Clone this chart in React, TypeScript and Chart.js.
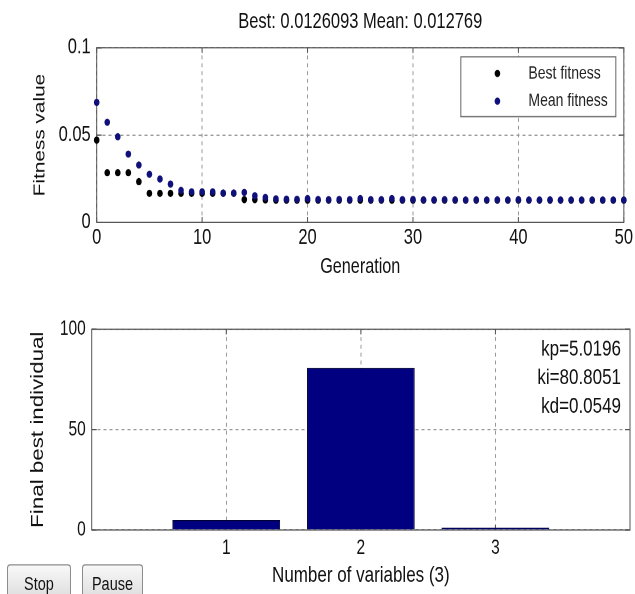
import { useEffect, useRef } from "react";
import { Chart, registerables } from "chart.js";

Chart.register(...registerables);

// the reference picture is stretched vertically, so the whole figure is drawn flatter and scaled
const K = 1.3;
const FONT = '"Liberation Sans", Arial, sans-serif';
const GRID = "#999";
const FRAME = "#555";
const INK = "#111";

const topTitle = "Best: 0.0126093 Mean: 0.012769";
const generations = [
  0, 1, 2, 3, 4, 5, 6, 7, 8, 9, 10, 11, 12, 13, 14, 15, 16, 17, 18, 19, 20, 21, 22, 23, 24, 25,
  26, 27, 28, 29, 30, 31, 32, 33, 34, 35, 36, 37, 38, 39, 40, 41, 42, 43, 44, 45, 46, 47, 48, 49, 50,
];
const bestFitness = [
  0.0471, 0.0284, 0.0284, 0.0284, 0.0233, 0.0166, 0.0166, 0.0166, 0.0166, 0.0166, 0.0166, 0.0166,
  0.0166, 0.0166, 0.013, 0.013, 0.0128, 0.0126, 0.0126, 0.0126, 0.0126, 0.0126, 0.0126, 0.0126,
  0.0126, 0.0126, 0.0126, 0.0126, 0.0126, 0.0126, 0.0126, 0.0126, 0.0126, 0.0126, 0.0126, 0.0126,
  0.0126, 0.0126, 0.0126, 0.0126, 0.0126, 0.0126, 0.0126, 0.0126, 0.0126, 0.0126, 0.0126, 0.0126,
  0.0126, 0.0126, 0.0126093,
];
const meanFitness = [
  0.0687, 0.0573, 0.049, 0.0391, 0.0328, 0.0275, 0.0248, 0.0219, 0.0183, 0.0175, 0.0175, 0.0175,
  0.0168, 0.0168, 0.0171, 0.0152, 0.0143, 0.0135, 0.0133, 0.0132, 0.0136, 0.0131, 0.013, 0.0131,
  0.013, 0.0136, 0.013, 0.013, 0.0136, 0.013, 0.0131, 0.0129, 0.0129, 0.013, 0.0129, 0.0128,
  0.0129, 0.0128, 0.0129, 0.0128, 0.013, 0.0128, 0.0128, 0.0129, 0.0128, 0.0128, 0.0128, 0.0128,
  0.0128, 0.0128, 0.012769,
];
const fitnessTicks = [0, 0.05, 0.1];
const generationTicks = [0, 10, 20, 30, 40, 50];

const variables = [1, 2, 3];
const gainNames = ["kp", "ki", "kd"];
const bestIndividual = [5.0196, 80.8051, 0.0549];
const individualTicks = [0, 50, 100];

const font = (size: number) => ({ family: FONT, size, weight: "normal" as const });

// box round the axes plus MATLAB-style inward tick marks
const framePlugin = {
  id: "frame",
  beforeDatasetsDraw(chart: any) {
    const { ctx, chartArea: a, scales } = chart;
    ctx.save();
    ctx.strokeStyle = FRAME;
    ctx.lineWidth = 1;
    ctx.strokeRect(a.left, a.top, a.width, a.height);
    ctx.beginPath();
    scales.x.ticks.forEach((t: any) => {
      const px = scales.x.getPixelForValue(t.value);
      ctx.moveTo(px, a.bottom);
      ctx.lineTo(px, a.bottom - 4);
      ctx.moveTo(px, a.top);
      ctx.lineTo(px, a.top + 4);
    });
    scales.y.ticks.forEach((t: any) => {
      const py = scales.y.getPixelForValue(t.value);
      ctx.moveTo(a.left, py);
      ctx.lineTo(a.left + 5, py);
      ctx.moveTo(a.right, py);
      ctx.lineTo(a.right - 5, py);
    });
    ctx.stroke();
    ctx.restore();
  },
};

const boxLegend = {
  id: "boxLegend",
  afterDraw(chart: any) {
    const { ctx, chartArea: a } = chart;
    const w = 155;
    const h = 46;
    const x = a.right - 8 - w;
    const y = a.top + 7;
    ctx.save();
    ctx.fillStyle = "#fff";
    ctx.fillRect(x, y, w, h);
    ctx.strokeStyle = "#666";
    ctx.lineWidth = 1;
    ctx.strokeRect(x, y, w, h);
    ctx.font = `14px ${FONT}`;
    ctx.textBaseline = "middle";
    chart.data.datasets.forEach((ds: any, i: number) => {
      const cy = y + 12.8 + i * 21.3;
      ctx.fillStyle = ds.backgroundColor;
      ctx.beginPath();
      ctx.arc(x + 36.6, cy, ds.pointRadius, 0, Math.PI * 2);
      ctx.fill();
      ctx.fillStyle = "#222";
      ctx.fillText(ds.label, x + 67.6, cy);
    });
    ctx.restore();
  },
};

const gainText = {
  id: "gainText",
  afterDatasetsDraw(chart: any) {
    const { ctx, chartArea: a } = chart;
    ctx.save();
    ctx.font = `17px ${FONT}`;
    ctx.fillStyle = INK;
    ctx.textAlign = "right";
    ctx.textBaseline = "middle";
    gainNames.forEach((name, i) => {
      ctx.fillText(`${name}=${bestIndividual[i]}`, a.right - 9, a.top + 15.4 + i * 22);
    });
    ctx.restore();
  },
};

const FitnessChart = () => {
  const ref = useRef<HTMLCanvasElement | null>(null);

  useEffect(() => {
    if (!ref.current) return;
    const c = new Chart(ref.current, {
      type: "scatter",
      data: {
        datasets: [
          {
            label: "Best fitness",
            data: generations.map((g, i) => ({ x: g, y: bestFitness[i] })),
            backgroundColor: "#000",
            borderColor: "#000",
            pointRadius: 2.8,
            pointBorderWidth: 0,
            clip: false,
            order: 2,
          },
          {
            label: "Mean fitness",
            data: generations.map((g, i) => ({ x: g, y: meanFitness[i] })),
            backgroundColor: "#10107a",
            borderColor: "#10107a",
            pointRadius: 2.8,
            pointBorderWidth: 0,
            clip: false,
            order: 1,
          },
        ],
      },
      options: {
        animation: false,
        responsive: true,
        maintainAspectRatio: false,
        devicePixelRatio: 2,
        layout: { padding: { left: 0, right: 10, top: 0, bottom: 0 } },
        plugins: {
          legend: { display: false },
          tooltip: { enabled: false },
          title: {
            display: true,
            text: topTitle,
            fullSize: false,
            color: INK,
            font: font(16.5),
            padding: { top: 7, bottom: 9.9 },
          },
        },
        scales: {
          x: {
            type: "linear",
            min: 0,
            max: 50,
            afterBuildTicks: (axis: any) => {
              axis.ticks = generationTicks.map((value) => ({ value }));
            },
            afterFit: (s: any) => {
              s.height = 59;
            },
            grid: { color: GRID, drawTicks: false },
            border: { display: false, dash: [3, 3] },
            ticks: { color: INK, font: font(16.5), padding: 2, maxRotation: 0 },
            title: {
              display: true,
              text: "Generation",
              color: INK,
              font: font(16.2),
              padding: { top: 0, bottom: 14.9 },
            },
          },
          y: {
            min: 0,
            max: 0.1,
            afterBuildTicks: (axis: any) => {
              axis.ticks = fitnessTicks.map((value) => ({ value }));
            },
            afterFit: (s: any) => {
              s.width = 96.7;
            },
            grid: { color: GRID, drawTicks: false },
            border: { display: false, dash: [3, 3] },
            ticks: { color: INK, font: font(16.5), padding: 6, callback: (v: any) => String(v) },
            title: {
              display: true,
              text: "Fitness value",
              color: INK,
              font: font(16),
              padding: { top: 30.4, bottom: 0 },
            },
          },
        },
      },
      plugins: [framePlugin, boxLegend],
    } as any);
    return () => c.destroy();
  }, []);

  return <canvas ref={ref} />;
};

const IndividualChart = () => {
  const ref = useRef<HTMLCanvasElement | null>(null);

  useEffect(() => {
    if (!ref.current) return;
    const c = new Chart(ref.current, {
      type: "bar",
      data: {
        datasets: [
          {
            label: "Final best individual",
            data: variables.map((v, i) => ({ x: v, y: bestIndividual[i] })),
            backgroundColor: "#000080",
            borderColor: "#00003a",
            borderWidth: 1,
            barPercentage: 0.8,
            categoryPercentage: 1,
            minBarLength: 2,
          },
        ],
      },
      options: {
        animation: false,
        responsive: true,
        maintainAspectRatio: false,
        devicePixelRatio: 2,
        layout: { padding: { left: 0, right: 5, top: 23.3, bottom: 0 } },
        plugins: {
          legend: { display: false },
          tooltip: { enabled: false },
        },
        scales: {
          x: {
            type: "linear",
            min: 0,
            max: 4,
            offset: false,
            afterBuildTicks: (axis: any) => {
              axis.ticks = variables.map((value) => ({ value }));
            },
            afterFit: (s: any) => {
              s.height = 62.3;
            },
            grid: { color: GRID, drawTicks: false, offset: false },
            border: { display: false, dash: [3, 3] },
            ticks: { color: INK, font: font(15.5), padding: 4.5, maxRotation: 0 },
            title: {
              display: true,
              text: "Number of variables (3)",
              color: INK,
              font: font(17),
              padding: { top: 0, bottom: 17 },
            },
          },
          y: {
            min: 0,
            max: 100,
            afterBuildTicks: (axis: any) => {
              axis.ticks = individualTicks.map((value) => ({ value }));
            },
            afterFit: (s: any) => {
              s.width = 91.7;
            },
            grid: { color: GRID, drawTicks: false },
            border: { display: false, dash: [3, 3] },
            ticks: { color: INK, font: font(15.5), padding: 6 },
            title: {
              display: true,
              text: "Final best individual",
              color: INK,
              font: font(17.2),
              padding: { top: 27.7, bottom: 0 },
            },
          },
        },
      },
      plugins: [framePlugin, gainText],
    } as any);
    return () => c.destroy();
  }, []);

  return <canvas ref={ref} />;
};

const buttonStyle = (left: number, width: number) => ({
  position: "absolute" as const,
  left,
  top: 434,
  width,
  height: 29,
  padding: 0,
  border: "1px solid #8c8c8c",
  borderRadius: 3,
  background: "linear-gradient(#f8f8f8, #dcdcdc)",
  color: INK,
  fontFamily: FONT,
  fontSize: 14.5,
});

export default function App() {
  return (
    <div
      style={{
        position: "absolute",
        left: 0,
        top: 0,
        width: 635,
        height: 594,
        overflow: "hidden",
        background: "#fff",
      }}
    >
      <div
        style={{
          position: "absolute",
          left: 0,
          top: 0,
          width: 635,
          height: 470,
          transform: `scaleY(${K})`,
          transformOrigin: "0 0",
        }}
      >
        <div style={{ position: "absolute", left: 0, top: 0, width: 635, height: 230 }}>
          <FitnessChart />
        </div>
        <div style={{ position: "absolute", left: 0, top: 230, width: 635, height: 240 }}>
          <IndividualChart />
        </div>
        <button style={buttonStyle(7.3, 63.4)}>Stop</button>
        <button style={buttonStyle(81.7, 61.6)}>Pause</button>
      </div>
    </div>
  );
}
